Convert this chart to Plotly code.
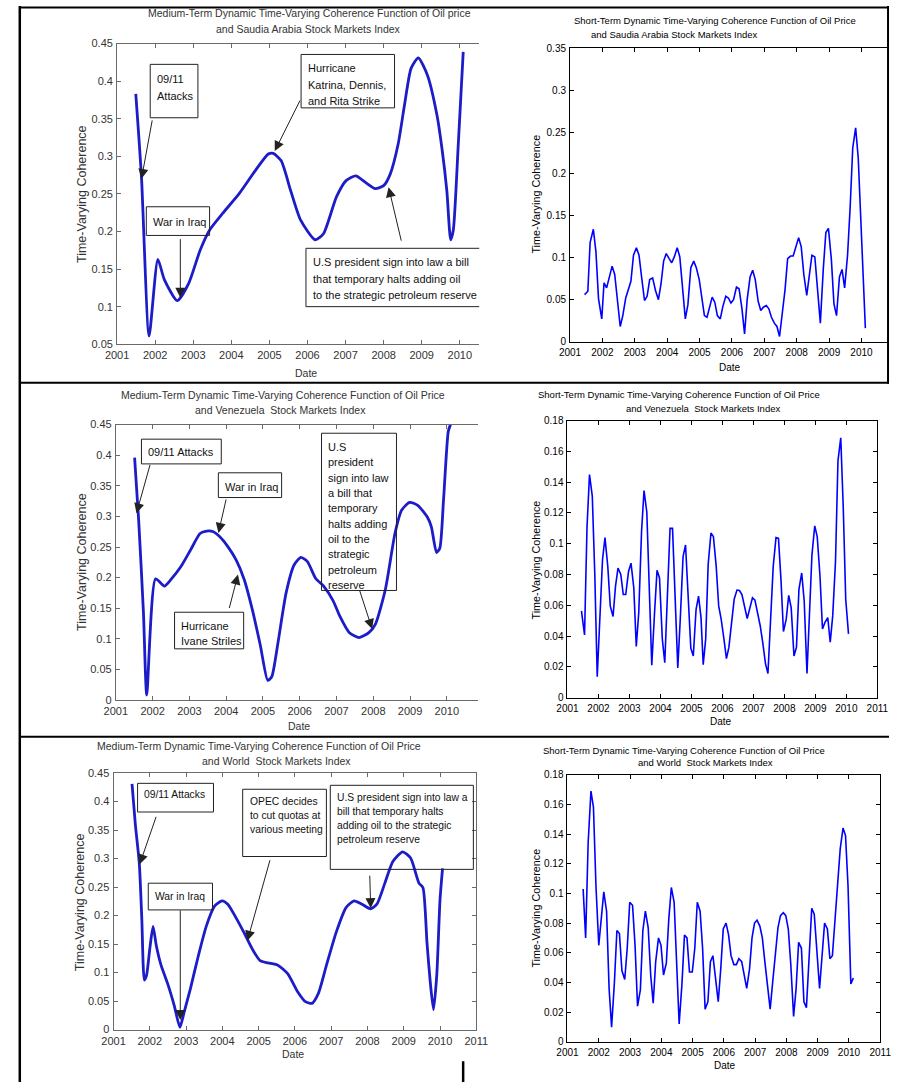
import plotly.graph_objects as go

W, H = 901, 1088

# ---------------- data ----------------
# Medium-term coherence, oil price vs Saudi Arabia index
sa_med_t = [2001.49, 2001.64, 2001.84, 2002.07, 2002.24, 2002.58, 2002.88, 2003.18, 2003.43,
            2003.77, 2004.20, 2004.63, 2004.97, 2005.10, 2005.31, 2005.56, 2005.82, 2006.20,
            2006.42, 2006.76, 2007.02, 2007.27, 2007.53, 2007.78, 2008.00, 2008.17, 2008.38,
            2008.55, 2008.72, 2008.91, 2009.15, 2009.40, 2009.53, 2009.66, 2009.76, 2009.83,
            2009.96, 2010.09]
sa_med_v = [0.383, 0.272, 0.061, 0.163, 0.136, 0.108, 0.131, 0.175, 0.202,
            0.224, 0.250, 0.281, 0.303, 0.304, 0.294, 0.254, 0.215, 0.189,
            0.197, 0.246, 0.268, 0.274, 0.265, 0.257, 0.261, 0.276, 0.316,
            0.369, 0.417, 0.431, 0.408, 0.355, 0.311, 0.254, 0.189, 0.202,
            0.316, 0.439]

# Short-term coherence, oil price vs Saudi Arabia index
sa_short_t = [2001.45, 2001.55, 2001.62, 2001.72, 2001.80, 2001.88, 2001.98, 2002.05, 2002.13,
              2002.22, 2002.30, 2002.38, 2002.46, 2002.55, 2002.63, 2002.72, 2002.88, 2002.96,
              2003.05, 2003.13, 2003.22, 2003.30, 2003.38, 2003.46, 2003.55, 2003.64, 2003.73,
              2003.81, 2003.89, 2003.97, 2004.06, 2004.14, 2004.22, 2004.31, 2004.39, 2004.47,
              2004.56, 2004.64, 2004.73, 2004.82, 2004.90, 2004.99, 2005.07, 2005.15, 2005.23,
              2005.31, 2005.39, 2005.47, 2005.55, 2005.64, 2005.72, 2005.81, 2005.89, 2005.97,
              2006.05, 2006.14, 2006.22, 2006.31, 2006.39, 2006.47, 2006.56, 2006.64, 2006.72,
              2006.81, 2006.89, 2006.97, 2007.06, 2007.14, 2007.22, 2007.31, 2007.39, 2007.47,
              2007.56, 2007.64, 2007.72, 2007.81, 2007.89, 2007.97, 2008.06, 2008.14, 2008.22,
              2008.31, 2008.39, 2008.47, 2008.56, 2008.65, 2008.73, 2008.82, 2008.90, 2008.98,
              2009.07, 2009.15, 2009.23, 2009.32, 2009.40, 2009.48, 2009.57, 2009.65, 2009.73,
              2009.82, 2009.90, 2009.98, 2010.06, 2010.12]
sa_short_v = [0.056, 0.060, 0.118, 0.134, 0.107, 0.051, 0.027, 0.070, 0.064,
              0.079, 0.090, 0.080, 0.054, 0.018, 0.031, 0.052, 0.072, 0.103,
              0.112, 0.103, 0.074, 0.049, 0.054, 0.074, 0.076, 0.061, 0.050,
              0.069, 0.096, 0.105, 0.099, 0.094, 0.101, 0.112, 0.101, 0.062,
              0.027, 0.044, 0.088, 0.096, 0.088, 0.074, 0.054, 0.031, 0.029,
              0.042, 0.053, 0.047, 0.031, 0.027, 0.042, 0.054, 0.052, 0.046,
              0.050, 0.065, 0.063, 0.039, 0.009, 0.050, 0.077, 0.085, 0.074,
              0.048, 0.037, 0.041, 0.043, 0.039, 0.029, 0.022, 0.018, 0.006,
              0.033, 0.062, 0.099, 0.102, 0.102, 0.112, 0.124, 0.113, 0.080,
              0.055, 0.080, 0.103, 0.101, 0.056, 0.022, 0.086, 0.130, 0.135,
              0.098, 0.045, 0.031, 0.077, 0.086, 0.064, 0.103, 0.160, 0.231,
              0.255, 0.219, 0.145, 0.070, 0.016]

# Medium-term coherence, oil price vs Venezuela index
ve_med_t = [2001.51, 2001.62, 2001.75, 2001.84, 2002.08, 2002.32, 2002.50, 2002.77, 2003.03,
            2003.29, 2003.47, 2003.65, 2003.82, 2004.04, 2004.27, 2004.49, 2004.71, 2004.93,
            2005.13, 2005.24, 2005.41, 2005.63, 2005.85, 2006.03, 2006.21, 2006.43, 2006.65,
            2006.91, 2007.09, 2007.35, 2007.62, 2007.88, 2008.06, 2008.33, 2008.59, 2008.77,
            2008.99, 2009.21, 2009.47, 2009.58, 2009.72, 2009.81, 2009.91, 2010.04, 2010.10]
ve_med_v = [0.396, 0.294, 0.143, 0.008, 0.198, 0.186, 0.197, 0.218, 0.245,
            0.272, 0.276, 0.275, 0.267, 0.251, 0.229, 0.197, 0.148, 0.089,
            0.032, 0.038, 0.094, 0.175, 0.221, 0.233, 0.226, 0.199, 0.186,
            0.162, 0.137, 0.110, 0.102, 0.110, 0.124, 0.181, 0.272, 0.310,
            0.323, 0.318, 0.299, 0.283, 0.241, 0.248, 0.326, 0.439, 0.450]

# Short-term coherence, oil price vs Venezuela index
ve_short_t = [2001.45, 2001.55, 2001.63, 2001.71, 2001.80, 2001.88, 2001.96, 2002.05, 2002.13,
              2002.21, 2002.30, 2002.38, 2002.47, 2002.55, 2002.63, 2002.72, 2002.80, 2002.88,
              2002.97, 2003.05, 2003.14, 2003.22, 2003.30, 2003.39, 2003.47, 2003.56, 2003.64,
              2003.72, 2003.81, 2003.89, 2003.97, 2004.06, 2004.14, 2004.23, 2004.31, 2004.39,
              2004.48, 2004.56, 2004.64, 2004.73, 2004.81, 2004.90, 2004.98, 2005.06, 2005.15,
              2005.23, 2005.31, 2005.38, 2005.46, 2005.54, 2005.63, 2005.71, 2005.80, 2005.88,
              2005.96, 2006.05, 2006.13, 2006.21, 2006.30, 2006.38, 2006.47, 2006.55, 2006.63,
              2006.72, 2006.80, 2006.89, 2006.97, 2007.05, 2007.14, 2007.22, 2007.30, 2007.39,
              2007.47, 2007.56, 2007.64, 2007.73, 2007.81, 2007.89, 2007.97, 2008.06, 2008.14,
              2008.22, 2008.31, 2008.39, 2008.47, 2008.56, 2008.64, 2008.73, 2008.81, 2008.89,
              2008.98, 2009.06, 2009.15, 2009.23, 2009.31, 2009.40, 2009.48, 2009.56, 2009.65,
              2009.73, 2009.82, 2009.90, 2009.98, 2010.07]
ve_short_v = [0.0564, 0.0407, 0.111, 0.145, 0.131, 0.081, 0.0135, 0.055, 0.0896,
              0.104, 0.0853, 0.0596, 0.0527, 0.0724, 0.0842, 0.080, 0.067, 0.067,
              0.082, 0.0874, 0.0714, 0.0332, 0.0553, 0.108, 0.1346, 0.1206, 0.0724,
              0.021, 0.0553, 0.0827, 0.0778, 0.0381, 0.0227, 0.0724, 0.110, 0.110,
              0.066, 0.0193, 0.051, 0.0917, 0.0992, 0.066, 0.0321, 0.027, 0.0574,
              0.066, 0.052, 0.0214, 0.038, 0.0864, 0.107, 0.1046, 0.0853, 0.0596,
              0.051, 0.038, 0.0253, 0.0328, 0.051, 0.0639, 0.0699, 0.0696, 0.067,
              0.0574, 0.0514, 0.0585, 0.0649, 0.0634, 0.0553, 0.0467, 0.036, 0.0221,
              0.0156, 0.051, 0.0853, 0.104, 0.1035, 0.0767, 0.0429, 0.051, 0.0664,
              0.0585, 0.027, 0.0328, 0.0703, 0.081, 0.0628, 0.0156, 0.0531, 0.0928,
              0.1116, 0.1046, 0.0789, 0.0446, 0.0489, 0.052, 0.036, 0.0531, 0.0885,
              0.1539, 0.1689, 0.1239, 0.0639, 0.0414]

# Medium-term coherence, oil price vs World index
wd_med_t = [2001.51, 2001.60, 2001.71, 2001.78, 2001.85, 2001.91, 2002.00, 2002.09, 2002.18,
            2002.31, 2002.49, 2002.67, 2002.83, 2002.94, 2003.12, 2003.34, 2003.56, 2003.79,
            2003.99, 2004.15, 2004.37, 2004.59, 2004.82, 2005.04, 2005.26, 2005.53, 2005.80,
            2006.07, 2006.29, 2006.47, 2006.65, 2006.87, 2007.14, 2007.41, 2007.63, 2007.85,
            2008.08, 2008.26, 2008.48, 2008.70, 2008.97, 2009.19, 2009.42, 2009.53, 2009.64,
            2009.73, 2009.82, 2009.91, 2010.00, 2010.07]
wd_med_v = [0.431, 0.361, 0.292, 0.194, 0.087, 0.095, 0.142, 0.181, 0.147,
            0.113, 0.081, 0.043, 0.004, 0.029, 0.072, 0.130, 0.182, 0.217,
            0.226, 0.220, 0.197, 0.171, 0.142, 0.121, 0.117, 0.113, 0.098,
            0.067, 0.049, 0.046, 0.064, 0.113, 0.171, 0.214, 0.226, 0.220,
            0.212, 0.220, 0.257, 0.295, 0.312, 0.301, 0.257, 0.249, 0.153,
            0.084, 0.035, 0.095, 0.228, 0.283]

# Short-term coherence, oil price vs World index
wd_short_t = [2001.50, 2001.58, 2001.66, 2001.75, 2001.83, 2001.91, 2002.00, 2002.08, 2002.16,
              2002.25, 2002.33, 2002.41, 2002.50, 2002.58, 2002.66, 2002.74, 2002.83, 2002.91,
              2002.99, 2003.08, 2003.16, 2003.24, 2003.33, 2003.41, 2003.49, 2003.58, 2003.66,
              2003.74, 2003.82, 2003.91, 2003.99, 2004.07, 2004.16, 2004.24, 2004.32, 2004.41,
              2004.49, 2004.57, 2004.66, 2004.74, 2004.82, 2004.90, 2004.99, 2005.07, 2005.15,
              2005.24, 2005.32, 2005.40, 2005.49, 2005.57, 2005.65, 2005.74, 2005.82, 2005.90,
              2005.98, 2006.07, 2006.15, 2006.23, 2006.32, 2006.40, 2006.48, 2006.57, 2006.65,
              2006.73, 2006.82, 2006.90, 2006.98, 2007.06, 2007.15, 2007.23, 2007.31, 2007.40,
              2007.48, 2007.56, 2007.65, 2007.73, 2007.81, 2007.90, 2007.98, 2008.06, 2008.14,
              2008.23, 2008.31, 2008.39, 2008.48, 2008.56, 2008.64, 2008.73, 2008.81, 2008.89,
              2008.97, 2009.06, 2009.14, 2009.22, 2009.31, 2009.39, 2009.47, 2009.56, 2009.64,
              2009.72, 2009.81, 2009.89, 2009.97, 2010.06, 2010.14]
wd_short_v = [0.103, 0.070, 0.134, 0.169, 0.158, 0.105, 0.065, 0.084, 0.101,
              0.088, 0.036, 0.0098, 0.040, 0.075, 0.073, 0.048, 0.042, 0.063,
              0.094, 0.092, 0.065, 0.024, 0.035, 0.075, 0.088, 0.077, 0.045,
              0.026, 0.054, 0.070, 0.065, 0.045, 0.053, 0.083, 0.104, 0.094,
              0.054, 0.012, 0.039, 0.072, 0.070, 0.047, 0.047, 0.063, 0.094,
              0.088, 0.063, 0.022, 0.027, 0.054, 0.058, 0.043, 0.027, 0.049,
              0.076, 0.080, 0.072, 0.058, 0.052, 0.052, 0.056, 0.054, 0.044,
              0.036, 0.049, 0.070, 0.080, 0.082, 0.078, 0.070, 0.054, 0.036,
              0.022, 0.040, 0.058, 0.077, 0.085, 0.087, 0.085, 0.076, 0.052,
              0.017, 0.036, 0.067, 0.063, 0.027, 0.023, 0.058, 0.090, 0.086,
              0.063, 0.036, 0.058, 0.080, 0.076, 0.056, 0.058, 0.084, 0.107,
              0.130, 0.144, 0.139, 0.105, 0.039, 0.043]

year_ticks = list(range(2001, 2012))

# ---------------- styling ----------------
SANS = "Liberation Sans, Arial, sans-serif"
MED_BLUE = "rgb(28,28,200)"
SHORT_BLUE = "rgb(0,0,255)"


def fx(x):
    return x / W


def fy(y):
    return 1 - y / H


fig = go.Figure()

# panel definitions: pixel box of the plot area, x range, y range, tick step
panels = [
    dict(name="1", t=sa_med_t, v=sa_med_v, box=(108, 38, 480, 342), xr=(2001, 2010.51),
         yr=(0.05, 0.45), dt=0.05, med=True, right=False),
    dict(name="2", t=sa_short_t, v=sa_short_v, box=(573.3, 42.7, 900, 339.3), xr=(2001, 2010.82),
         yr=(0, 0.35), dt=0.05, med=False, right=False),
    dict(name="3", t=ve_med_t, v=ve_med_v, box=(106.7, 423.3, 479, 701.7), xr=(2001, 2010.855),
         yr=(0, 0.45), dt=0.05, med=True, right=False),
    dict(name="4", t=ve_short_t, v=ve_short_v, box=(570.7, 419.3, 889, 699.3), xr=(2001, 2011),
         yr=(0, 0.18), dt=0.02, med=False, right=True),
    dict(name="5", t=wd_med_t, v=wd_med_v, box=(104.3, 775.7, 477, 1035), xr=(2001, 2011),
         yr=(0, 0.45), dt=0.05, med=True, right=True),
    dict(name="6", t=wd_short_t, v=wd_short_v, box=(570.7, 777.3, 892, 1047.3), xr=(2001, 2011),
         yr=(0, 0.18), dt=0.02, med=False, right=True),
]

for p in panels:
    n = p["name"]
    xa = "x" if n == "1" else "x" + n
    ya = "y" if n == "1" else "y" + n
    x0, y0, x1, y1 = p["box"]
    med = p["med"]
    fig.add_trace(go.Scatter(
        x=p["t"], y=p["v"], mode="lines", xaxis=xa, yaxis=ya,
        line=dict(color=MED_BLUE if med else SHORT_BLUE,
                  width=2.8 if med else 1.6,
                  shape="spline" if med else "linear", smoothing=0.6),
        showlegend=False, hoverinfo="skip"))
    axcol = "#6a6a6a" if med else "#000000"
    tfont = dict(family=SANS, size=11, color="#333333") if med else \
        dict(family=SANS, size=10, color="#000000")
    nt = int(round((p["yr"][1] - p["yr"][0]) / p["dt"])) + 1
    yt = [round(p["yr"][0] + i * p["dt"], 4) for i in range(nt)]
    fig.layout["xaxis" if n == "1" else "xaxis" + n] = dict(
        domain=[fx(x0), fx(x1)], anchor=ya, range=list(p["xr"]),
        tickvals=year_ticks, ticktext=[str(v) for v in year_ticks],
        ticks="inside", ticklen=4, tickcolor=axcol, tickwidth=1,
        showline=True, linecolor=axcol, linewidth=1, mirror="ticks",
        showgrid=False, zeroline=False, tickfont=tfont, ticklabelstandoff=1)
    fig.layout["yaxis" if n == "1" else "yaxis" + n] = dict(
        domain=[fy(y1), fy(y0)], anchor=xa, range=list(p["yr"]),
        tickvals=yt, ticktext=[("%g" % v) for v in yt],
        ticks="inside", ticklen=4, tickcolor=axcol, tickwidth=1,
        showline=True, linecolor=axcol, linewidth=1,
        mirror="ticks" if p["right"] else False,
        showgrid=False, zeroline=False, tickfont=tfont, ticklabelstandoff=1)

annotations = []
shapes = []


def label(x, y, text, font, **kw):
    d = dict(x=fx(x), y=fy(y), xref="paper", yref="paper", text=text,
             showarrow=False, font=font, xanchor="center", yanchor="middle")
    d.update(kw)
    annotations.append(d)


med_title = dict(family=SANS, size=10.5, color="#333333")
short_title = dict(family=SANS, size=9.5, color="#000000")
med_axis = dict(family=SANS, size=10.5, color="#333333")
med_axis_v = dict(family=SANS, size=12.5, color="#333333")
short_axis = dict(family=SANS, size=10, color="#000000")
short_axis_v = dict(family=SANS, size=10.8, color="#000000")

# panel titles (two lines each)
titles = [
    (138, 7, "Medium-Term Dynamic Time-Varying Coherence Function of Oil price", med_title),
    (208, 23, "and Saudia Arabia Stock Markets Index", med_title),
    (575, 15, "Short-Term Dynamic Time-Varying Coherence Function of Oil Price", short_title),
    (593, 29, "and Saudia Arabia Stock Markets Index", short_title),
    (110, 393, "Medium-Term Dynamic Time-Varying Coherence Function of Oil Price", med_title),
    (186, 409, "and Venezuela  Stock Markets Index", med_title),
    (538, 393, "Short-Term Dynamic Time-Varying Coherence Function of Oil Price", short_title),
    (629, 407, "and Venezuela  Stock Markets Index", short_title),
    (85, 748, "Medium-Term Dynamic Time-Varying Coherence Function of Oil Price", med_title),
    (193, 763, "and World  Stock Markets Index", med_title),
    (543, 753, "Short-Term Dynamic Time-Varying Coherence Function of Oil Price", short_title),
    (641, 765, "and World  Stock Markets Index", short_title),
]
for tx, ty, txt, f in titles:
    label(tx, ty, txt.replace("  ", "&nbsp; "), f, xanchor="left")

# axis titles
for (dx, dy, vx, vy, med) in [(302, 371, 72, 190, True), (738, 366, 538, 190, False),
                              (295, 728, 72, 562, True), (728, 723, 538, 560, False),
                              (289, 1060, 70, 906, True), (732, 1071, 538, 912, False)]:
    label(dx, dy, "Date", med_axis if med else short_axis)
    label(vx, vy, "Time-Varying Coherence", med_axis_v if med else short_axis_v, textangle=-90)

# event boxes: pixel box, text lines, first-line centre y, line spacing, font size, open right side
boxes = [
    ((142, 59, 191, 113), ["09/11", "Attacks"], 74, 16.7, 11, False),
    ((138, 203, 203, 232), ["War in Iraq"], 218, 16.7, 11, False),
    ((297, 49, 393, 103), ["Hurricane", "Katrina, Dennis,", "and Rita Strike"], 63, 16.7, 11, False),
    ((302, 245, 480, 304), ["U.S president sign into law a bill", "that temporary halts adding oil",
                            "to the strategic petroleum reserve"], 259, 16.6, 11, True),
    ((133, 438, 215, 463), ["09/11 Attacks"], 451, 15.5, 11, False),
    ((212, 472, 277, 497), ["War in Iraq"], 486, 15.5, 11, False),
    ((167, 613, 238, 650), ["Hurricane", "Ivane Striles"], 627, 15.5, 11, False),
    ((318, 432, 395, 591), ["U.S", "president", "sign into law", "a bill that", "temporary",
                            "halts adding", "oil to the", "strategic", "petroleum", "reserve"],
     446, 15.5, 11, False),
    ((129, 786, 207, 815), ["09/11 Attacks"], 797, 14.4, 10.3, False),
    ((140, 887, 206, 914), ["War in Iraq"], 900, 14.4, 10.3, False),
    ((237, 792, 323, 860), ["OPEC decides", "to cut quotas at", "various meeting"], 804, 14.4, 10.3, False),
    ((327, 788, 474, 873), ["U.S president sign into law a", "bill that temporary halts",
                            "adding oil to the strategic", "petroleum reserve"], 800, 14.4, 10.3, False),
]
for (bx0, by0, bx1, by1), lines, ly, sp, fs, open_right in boxes:
    if open_right:
        shapes.append(dict(type="path", xref="paper", yref="paper",
                           path="M %f,%f L %f,%f L %f,%f L %f,%f" % (
                               fx(bx1), fy(by0), fx(bx0), fy(by0), fx(bx0), fy(by1), fx(bx1), fy(by1)),
                           line=dict(color="#222222", width=1)))
    else:
        shapes.append(dict(type="rect", xref="paper", yref="paper",
                           x0=fx(bx0), x1=fx(bx1), y0=fy(by1), y1=fy(by0),
                           line=dict(color="#222222", width=1)))
    for i, ln in enumerate(lines):
        label(bx0 + 5, ly + i * sp, ln, dict(family=SANS, size=fs, color="#111111"),
              xanchor="left")

# arrows: subplot, tip (data), tail offset in pixels
arrows = [
    ("", 2001.64, 0.270, 11, -60), ("", 2002.66, 0.112, 0, -60),
    ("", 2005.14, 0.307, 26, -52), ("", 2008.13, 0.259, 13, 55),
    ("3", 2001.56, 0.305, 14, -50), ("3", 2003.79, 0.273, 8, -35),
    ("3", 2004.32, 0.205, -9, 35), ("3", 2007.97, 0.116, -13, -40),
    ("5", 2001.72, 0.290, 17, -49), ("5", 2002.84, 0.017, 0, -111),
    ("5", 2004.69, 0.156, 23, -82), ("5", 2008.09, 0.213, -1, -34),
]
for sp, tx, ty, ax, ay in arrows:
    annotations.append(dict(x=tx, y=ty, xref="x" + sp, yref="y" + sp, ax=ax, ay=ay,
                            text="", showarrow=True, arrowhead=2, arrowsize=2.0,
                            arrowwidth=1, arrowcolor="#222222", standoff=0))

# page frame lines
frame = [
    (8, 0, 8, 1088, 2.5), (8, 1.5, 901, 1.5, 2), (900, 0, 900, 382, 2),
    (8, 381, 901, 381, 2), (8, 739, 901, 739, 2), (463.5, 1067, 463.5, 1088, 2.5),
]
for x0, y0, x1, y1, w in frame:
    shapes.append(dict(type="line", xref="paper", yref="paper",
                       x0=fx(x0), y0=fy(y0), x1=fx(x1), y1=fy(y1),
                       line=dict(color="#000000", width=w)))

fig.update_layout(
    width=W, height=H, margin=dict(l=0, r=0, t=0, b=0),
    paper_bgcolor="white", plot_bgcolor="white",
    showlegend=False, annotations=annotations, shapes=shapes,
)

fig.write_html("out.html")
